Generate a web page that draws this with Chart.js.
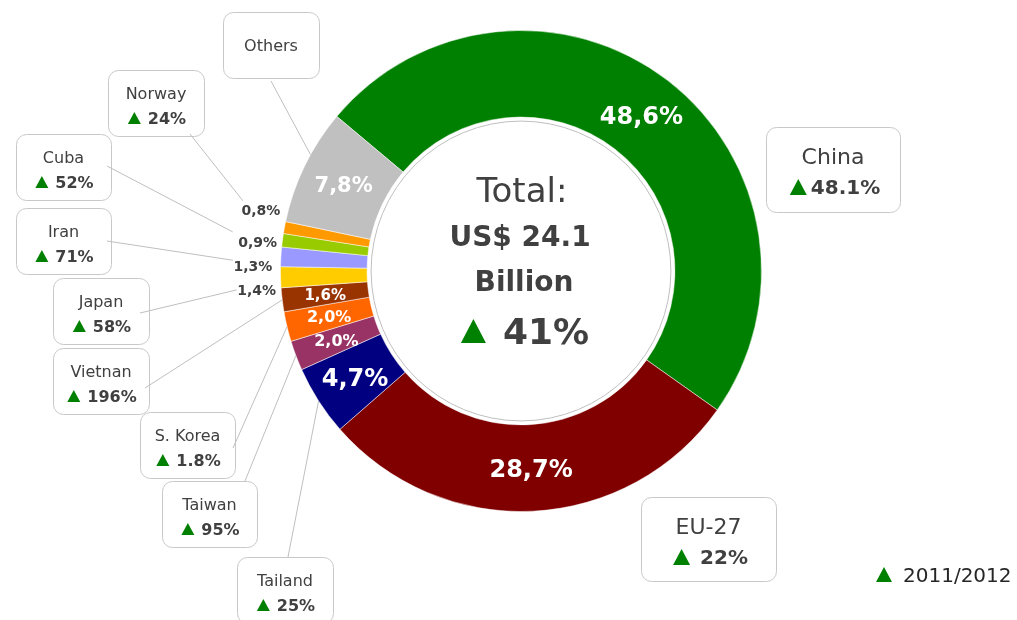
<!DOCTYPE html>
<html>
<head>
<meta charset="utf-8">
<title>Exports by destination 2012</title>
<script src="https://cdn.jsdelivr.net/npm/chart.js@4.4.1/dist/chart.umd.min.js"></script>
<style>
    html, body { margin: 0; padding: 0; background: #ffffff; }
    #wrap { width: 1017px; height: 620px; position: relative; overflow: hidden; }
</style>
</head>
<body>
<div id="wrap"><canvas id="shareChart" width="1017" height="620"></canvas></div>
<script>
// Data
const categories = ['China', 'EU-27', 'Tailand', 'Taiwan', 'S. Korea', 'Vietnan', 'Japan', 'Iran', 'Cuba', 'Norway', 'Others'];
const shares = [48.6, 28.7, 4.7, 2.0, 2.0, 1.6, 1.4, 1.3, 0.9, 0.8, 7.8];
const growth = ['48.1%', '22%', '25%', '95%', '1.8%', '196%', '58%', '71%', '52%', '24%', null];
const totalLines = ['Total:', 'US$ 24.1', 'Billion'];
const totalGrowth = '41%';
const periodLabel = '2011/2012';

const sliceColors = ['#008000', '#800000', '#000080', '#993366', '#ff6600', '#993300',
                     '#ffcc00', '#9999ff', '#99cc00', '#ff9900', '#c0c0c0'];

// Layout of the callouts (not data): box rect, leader line start, share label placement
const FONT = '"DejaVu Sans", sans-serif';
const TEXT = '#404040';
const GREEN = '#008000';

const callouts = [
    { rect: [766, 127, 134, 85], big: true, gap: 4 },               // China
    { rect: [641, 497, 135, 84], big: true, gap: 10 },              // EU-27
    { rect: [237, 557, 96, 66], from: [288, 557] },                 // Tailand
    { rect: [162, 481, 95, 66], from: [245, 481] },                 // Taiwan
    { rect: [140, 412, 95, 66], from: [233, 448] },                 // S. Korea
    { rect: [53, 348, 96, 66], from: [145, 388] },                  // Vietnan
    { rect: [53, 278, 96, 66], from: [140, 313], nudge: [2, 12], tip: [-20, 0] },    // Japan
    { rect: [16, 208, 95, 66], from: [107, 241], nudge: [-2, 11], tip: [-20, -6] },  // Iran
    { rect: [16, 134, 95, 66], from: [107, 166], nudge: [1, 5], tip: [-25, -10] },   // Cuba
    { rect: [108, 70, 96, 66], from: [190, 134], nudge: [2, -13], tip: [-18, -9] },  // Norway
    { rect: [223, 12, 96, 66], from: [271, 81], tipAngle: 3 }       // Others
];
// font size of the share label in / beside each slice
const shareFont = [24, 24, 24, 16, 16, 15, 14, 14, 14, 14, 21];

function fmtShare(v) {
    return v.toFixed(1).replace('.', ',');
}

// text drawn with its cap height centred on cy
function drawText(ctx, str, x, cy, size, weight, color, align) {
    ctx.font = weight + ' ' + size + 'px ' + FONT;
    ctx.fillStyle = color;
    ctx.textAlign = align || 'center';
    ctx.textBaseline = 'alphabetic';
    ctx.fillText(str, x, cy + size * 0.36);
}

function triangle(ctx, cx, baseY, w, h) {
    ctx.beginPath();
    ctx.moveTo(cx - w / 2, baseY);
    ctx.lineTo(cx + w / 2, baseY);
    ctx.lineTo(cx, baseY - h);
    ctx.closePath();
    ctx.fillStyle = GREEN;
    ctx.fill();
}

// triangle + bold value, centred as one group
function growthLine(ctx, str, cx, cy, size, triW, triH, gap) {
    ctx.font = 'bold ' + size + 'px ' + FONT;
    const tw = ctx.measureText(str).width;
    const left = cx - (triW + gap + tw) / 2;
    triangle(ctx, left + triW / 2, cy + triH / 2, triW, triH);
    drawText(ctx, str, left + triW + gap, cy, size, 'bold', TEXT, 'left');
}

function roundBox(ctx, x, y, w, h, r) {
    ctx.beginPath();
    ctx.roundRect(x + 0.5, y + 0.5, w, h, r);
    ctx.fillStyle = '#ffffff';
    ctx.fill();
    ctx.strokeStyle = '#c8c8c8';
    ctx.lineWidth = 1;
    ctx.stroke();
}

const calloutPlugin = {
    id: 'callouts',
    afterDatasetsDraw(chart) {
        const ctx = chart.ctx;
        const arcs = chart.getDatasetMeta(0).data;
        const cx = arcs[0].x, cy = arcs[0].y;
        const outerR = arcs[0].outerRadius, innerR = arcs[0].innerRadius;
        const pt = (a, r) => [cx + r * Math.cos(a), cy + r * Math.sin(a)];

        ctx.save();

        // white centre disc with thin grey rim
        ctx.beginPath();
        ctx.arc(cx, cy, innerR - 4, 0, Math.PI * 2);
        ctx.fillStyle = '#ffffff';
        ctx.fill();
        ctx.strokeStyle = '#bfbfbf';
        ctx.lineWidth = 1;
        ctx.stroke();

        // centre text
        drawText(ctx, totalLines[0], cx + 1, cy - 81, 34, 'normal', TEXT);
        drawText(ctx, totalLines[1], cx - 1, cy - 35, 28, 'bold', TEXT);
        drawText(ctx, totalLines[2], cx + 3, cy + 10, 28, 'bold', TEXT);
        growthLine(ctx, totalGrowth, cx + 4, cy + 60, 36, 25, 24, 17);

        // boxes first, leader lines on top
        categories.forEach((name, i) => {
            const c = callouts[i];
            const [bx, by, bw, bh] = c.rect;
            roundBox(ctx, bx, by, bw, bh, 10);
            const mid = bx + bw / 2;
            if (c.big) {
                drawText(ctx, name, mid, by + 29, 22, 'normal', TEXT);
                growthLine(ctx, growth[i], mid + 2, by + 60, 20, 17, 16, c.gap);
            } else if (growth[i] === null) {
                drawText(ctx, name, mid, by + 33, 16, 'normal', TEXT);
            } else {
                drawText(ctx, name, mid, by + 23, 16, 'normal', TEXT);
                growthLine(ctx, growth[i], mid + 1, by + 48, 16, 13, 12, 7);
            }
        });

        // share labels and leader lines
        arcs.forEach((arc, i) => {
            const c = callouts[i];
            const a = (arc.startAngle + arc.endAngle) / 2;
            const txt = fmtShare(shares[i]) + '%';
            let tipPt = null;
            if (c.nudge) {
                const p = pt(a, outerR + 26);
                const lx = p[0] + c.nudge[0], ly = p[1] + c.nudge[1];
                drawText(ctx, txt, lx, ly, shareFont[i], 'bold', TEXT);
                tipPt = [lx + c.tip[0], ly + c.tip[1]];
            } else {
                const p = pt(a, (innerR + outerR) / 2);
                drawText(ctx, txt, p[0], p[1], shareFont[i], 'bold', '#ffffff');
                if (c.from) tipPt = pt(a + (c.tipAngle || 0) * Math.PI / 180, outerR);
            }
            if (c.from && tipPt) {
                ctx.beginPath();
                ctx.moveTo(c.from[0], c.from[1]);
                ctx.lineTo(tipPt[0], tipPt[1]);
                ctx.strokeStyle = '#bfbfbf';
                ctx.lineWidth = 1;
                ctx.stroke();
            }
        });

        // period key, bottom right
        triangle(ctx, 884, 582, 16, 15);
        drawText(ctx, periodLabel, 903, 575, 20, 'normal', '#262626', 'left');

        ctx.restore();
    }
};

new Chart(document.getElementById('shareChart'), {
    type: 'doughnut',
    data: {
        labels: categories,
        datasets: [{
            data: shares,
            backgroundColor: sliceColors,
            borderColor: 'rgba(255,255,255,0.5)',
            borderWidth: 1,
            hoverOffset: 0
        }]
    },
    options: {
        responsive: false,
        animation: false,
        rotation: -50,
        cutout: '64%',
        layout: { padding: { left: 280, right: 255, top: 30, bottom: 108 } },
        plugins: {
            legend: { display: false },
            tooltip: { enabled: false }
        }
    },
    plugins: [calloutPlugin]
});
</script>
</body>
</html>
